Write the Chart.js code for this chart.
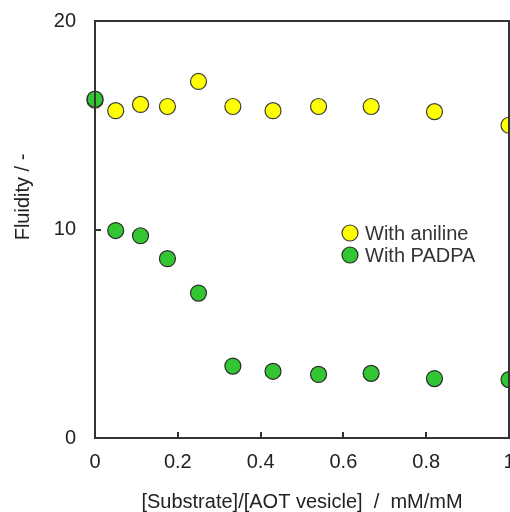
<!DOCTYPE html>
<html>
<head>
<meta charset="utf-8">
<script src="https://cdn.jsdelivr.net/npm/chart.js@4/dist/chart.umd.min.js"></script>
<style>
  html, body { margin: 0; padding: 0; background: #ffffff; }
  #wrap { width: 510px; height: 512px; position: relative; }
</style>
</head>
<body>
<div id="wrap"><canvas id="c" width="510" height="512"></canvas></div>
<script>
// ---- data ----
const ratioAniline = [0, 0.05, 0.11, 0.175, 0.25, 0.333, 0.43, 0.54, 0.667, 0.82, 1.0];
const fluidityAniline = [16.2, 15.7, 16.0, 15.9, 17.1, 15.9, 15.7, 15.9, 15.9, 15.65, 15.0];
const ratioPADPA = [0, 0.05, 0.11, 0.175, 0.25, 0.333, 0.43, 0.54, 0.667, 0.82, 1.0];
const fluidityPADPA = [16.25, 9.95, 9.7, 8.6, 6.95, 3.45, 3.2, 3.05, 3.1, 2.85, 2.8];
const seriesNames = ['With aniline', 'With PADPA'];
const xTitle = '[Substrate]/[AOT vesicle]  /  mM/mM';
const yTitle = 'Fluidity / -';
const xTickValues = [0, 0.2, 0.4, 0.6, 0.8, 1];
const yTickValues = [0, 10, 20];

const FONT = '"Liberation Sans", Arial, sans-serif';
const TEXT = '#222222';
const FRAME = '#333333';

function pts(xs, ys) { return xs.map((x, i) => ({ x: x, y: ys[i] })); }

const decor = {
  id: 'decor',
  afterDatasetsDraw(chart) {
    const ctx = chart.ctx;
    const a = chart.chartArea;
    const xs = chart.scales.x, ys = chart.scales.y;
    ctx.save();
    // frame
    ctx.strokeStyle = FRAME;
    ctx.lineWidth = 2;
    ctx.strokeRect(a.left, a.top, a.right - a.left, a.bottom - a.top);
    // inward ticks
    ctx.beginPath();
    xTickValues.forEach(v => {
      const px = Math.round(xs.getPixelForValue(v));
      ctx.moveTo(px, a.bottom);
      ctx.lineTo(px, a.bottom - 6);
    });
    yTickValues.forEach(v => {
      const py = Math.round(ys.getPixelForValue(v));
      ctx.moveTo(a.left, py);
      ctx.lineTo(a.left + 6, py);
    });
    ctx.stroke();
    ctx.restore();
  },
  afterDraw(chart) {
    const ctx = chart.ctx;
    const a = chart.chartArea;
    const ds = chart.data.datasets;
    ctx.save();
    // legend inside plot
    const lx = 350, ly0 = 233, dy = 22;
    ds.forEach((d, i) => {
      const y = ly0 + i * dy;
      ctx.beginPath();
      ctx.arc(lx, y, 8, 0, Math.PI * 2);
      ctx.fillStyle = d.backgroundColor;
      ctx.fill();
      ctx.lineWidth = 1.2;
      ctx.strokeStyle = d.borderColor;
      ctx.stroke();
      ctx.fillStyle = '#333333';
      ctx.font = '20px ' + FONT;
      ctx.textAlign = 'left';
      ctx.textBaseline = 'middle';
      ctx.fillText(d.label, lx + 15, y + 1);
    });
    // axis titles
    ctx.fillStyle = TEXT;
    ctx.font = '20px ' + FONT;
    ctx.textAlign = 'center';
    ctx.textBaseline = 'middle';
    ctx.fillText(xTitle, (a.left + a.right) / 2, 502);
    ctx.translate(23, 197);
    ctx.rotate(-Math.PI / 2);
    ctx.fillText(yTitle, 0, 0);
    ctx.restore();
  }
};

new Chart(document.getElementById('c'), {
  type: 'scatter',
  data: {
    datasets: [
      {
        label: seriesNames[0],
        data: pts(ratioAniline, fluidityAniline),
        backgroundColor: '#FFFF00',
        borderColor: '#3a3a3a',
        borderWidth: 1.2,
        pointRadius: 8,
        pointHoverRadius: 8,
        order: 2
      },
      {
        label: seriesNames[1],
        data: pts(ratioPADPA, fluidityPADPA),
        backgroundColor: '#33C633',
        borderColor: '#2a2a2a',
        borderWidth: 1.2,
        pointRadius: 8,
        pointHoverRadius: 8,
        order: 1
      }
    ]
  },
  plugins: [decor],
  options: {
    responsive: false,
    animation: false,
    events: [],
    clip: false,
    layout: { autoPadding: false, padding: { left: 0, top: 21, right: 1, bottom: 0 } },
    plugins: {
      legend: { display: false },
      tooltip: { enabled: false },
      title: { display: false }
    },
    scales: {
      x: {
        type: 'linear',
        min: 0, max: 1,
        afterBuildTicks(s) { s.ticks = xTickValues.map(v => ({ value: v })); },
        afterFit(s) { s.height = 74; s.paddingLeft = 0; s.paddingRight = 0; },
        grid: { display: false, drawTicks: false },
        border: { display: false },
        ticks: {
          padding: 12,
          color: TEXT,
          font: { family: FONT, size: 20 },
          maxRotation: 0,
          autoSkip: false,
          callback: v => String(v)
        }
      },
      y: {
        type: 'linear',
        min: 0, max: 20,
        afterBuildTicks(s) { s.ticks = yTickValues.map(v => ({ value: v })); },
        afterFit(s) { s.width = 95; s.paddingTop = 0; s.paddingBottom = 0; },
        grid: { display: false, drawTicks: false },
        border: { display: false },
        ticks: {
          padding: 19,
          color: TEXT,
          font: { family: FONT, size: 20 },
          callback: v => String(v)
        }
      }
    }
  }
});
</script>
</body>
</html>
